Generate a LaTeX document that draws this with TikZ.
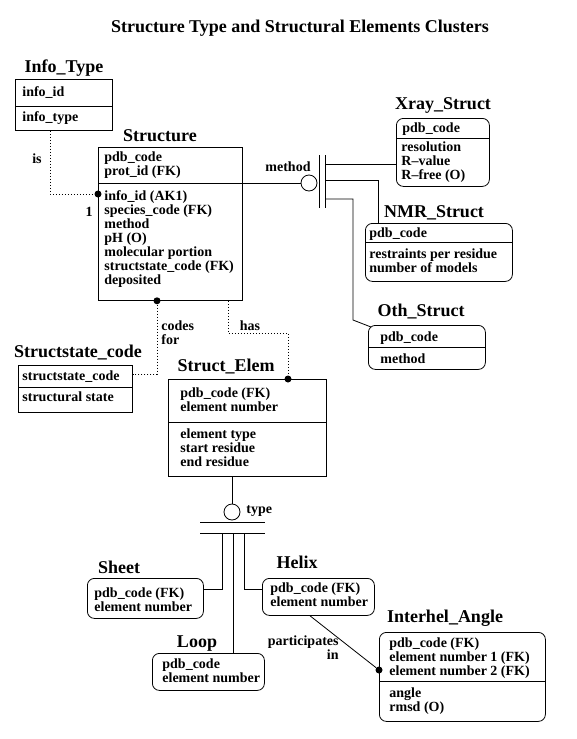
\documentclass[tikz,border=0pt]{standalone}
\usepackage{fontspec}
\setmainfont{Liberation Serif}

\begin{document}
\begin{tikzpicture}[x=1pt,y=-1pt,line width=0.8pt,
  ent/.style={draw,anchor=north west,inner sep=0pt},
  dep/.style={ent,rounded corners=7pt},
  attr/.style={anchor=north west,inner sep=0pt,align=left,font=\fontsize{14}{14}\bfseries},
  ename/.style={inner sep=0pt,anchor=mid,font=\fontsize{18}{18}\bfseries},
  lbl/.style={inner sep=0pt,align=left,font=\fontsize{14}{14}\bfseries},
  fkdot/.style={circle,fill,inner sep=0pt,minimum size=7pt},
  joint/.style={circle,draw,inner sep=0pt,minimum size=16pt},
  rel/.style={dash pattern=on 1pt off 2pt}]
%\draw [help lines,black!20!white] (0,0) grid[step=50] (576,739);
\useasboundingbox (0,0) rectangle (576,739);

\node[ename] (title) at (300,30) {Structure Type and Structural Elements Clusters};

% independent entities
\node[ent,minimum width=97pt,minimum height=51pt] (infotype) at (15,79) {};
\draw (infotype.west |- 0,106) -- (infotype.east |- 0,106);
\node[ename] (infotypeN) at (64,70) {Info\_Type};
\node[attr] (infotypeK) at (22,86) {info\_id};
\node[attr] (infotypeA) at (22,111) {info\_type};

\node[ent,minimum width=144pt,minimum height=153pt] (structure) at (98,147) {};
\draw (structure.west |- 0,183) -- (structure.east |- 0,183);
\node[ename] (structureN) at (160,139) {Structure};
\node[attr] (structureK) at (104,151) {pdb\_code\\prot\_id (FK)};
\node[attr] (structureA) at (104,190) {info\_id (AK1)\\species\_code (FK)\\method\\pH (O)\\molecular portion\\structstate\_code (FK)\\deposited};

\node[ent,minimum width=114pt,minimum height=47pt] (structstate) at (18,365) {};
\draw (structstate.west |- 0,387) -- (structstate.east |- 0,387);
\node[ename] (structstateN) at (78,355) {Structstate\_code};
\node[attr] (structstateK) at (22,370) {structstate\_code};
\node[attr] (structstateA) at (22,391) {structural state};

\node[ent,minimum width=158pt,minimum height=97pt] (structelem) at (168,379) {};
\draw (structelem.west |- 0,422) -- (structelem.east |- 0,422);
\node[ename] (structelemN) at (226,369) {Struct\_Elem};
\node[attr] (structelemK) at (180,387) {pdb\_code (FK)\\element number};
\node[attr] (structelemA) at (180,428) {element type\\start residue\\end residue};

% dependent entities
\node[dep,minimum width=93pt,minimum height=68pt] (xray) at (396,118) {};
\draw (xray.west |- 0,138) -- (xray.east |- 0,138);
\node[ename] (xrayN) at (443,107) {Xray\_Struct};
\node[attr] (xrayK) at (402,122) {pdb\_code};
\node[attr] (xrayA) at (401,141) {resolution\\R--value\\R--free (O)};

\node[dep,minimum width=147pt,minimum height=58pt] (nmr) at (365,223) {};
\draw (nmr.west |- 0,242) -- (nmr.east |- 0,242);
\node[ename] (nmrN) at (434,215) {NMR\_Struct};
\node[attr] (nmrK) at (369,227) {pdb\_code};
\node[attr] (nmrA) at (369,248) {restraints per residue\\number of models};

\node[dep,minimum width=117pt,minimum height=44pt] (oth) at (368,325) {};
\draw (oth.west |- 0,347) -- (oth.east |- 0,347);
\node[ename] (othN) at (421,314) {Oth\_Struct};
\node[attr] (othK) at (380,331) {pdb\_code};
\node[attr] (othA) at (380,353) {method};

\node[dep,minimum width=116pt,minimum height=40pt] (sheet) at (87,578) {};
\node[ename] (sheetN) at (119,571) {Sheet};
\node[attr] (sheetK) at (94,587) {pdb\_code (FK)\\element number};

\node[dep,minimum width=112pt,minimum height=37pt] (helix) at (262,578) {};
\node[ename] (helixN) at (297,566) {Helix};
\node[attr] (helixK) at (270,582) {pdb\_code (FK)\\element number};

\node[dep,minimum width=112pt,minimum height=37pt] (loop) at (152,653) {};
\node[ename] (loopN) at (197,645) {Loop};
\node[attr] (loopK) at (162,658) {pdb\_code\\element number};

\node[dep,minimum width=166pt,minimum height=89pt] (interhel) at (379,632) {};
\draw (interhel.west |- 0,681) -- (interhel.east |- 0,681);
\node[ename] (interhelN) at (445,620) {Interhel\_Angle};
\node[attr] (interhelK) at (389,637) {pdb\_code (FK)\\element number 1 (FK)\\element number 2 (FK)};
\node[attr] (interhelA) at (389,687) {angle\\rmsd (O)};

% is
\node[fkdot] (isdot) at (structure.west |- 0,194) {};
\draw[rel] (infotype.south -| 50,0) |- (isdot);
\node[lbl] (isL) at (37,159) {is};
\node[lbl] (isC) at (89,212) {1};

% method
\node[joint] (methjoint) at (309,183) {};
\draw (structure.east |- methjoint) -- (methjoint);
\draw (319,155) -- (319,208);
\draw (325,155) -- (325,208);
\draw (325,164) -- (xray.west |- 0,164);
\draw (325,180) -| (nmr.north -| 378,0);
\draw (325,199) -| (353,320) -- ([shift={(3,2)}]oth.north west);
\node[lbl] (methL) at (288,167) {method};

% codes for
\node[fkdot] (csdot) at (structure.south -| 157,0) {};
\draw[rel] (csdot) |- (structstate.east |- 0,374);
\node[lbl,anchor=north west] (csL) at (161,320) {codes\\for};

% has
\node[fkdot] (hasdot) at (structelem.north -| 288,0) {};
\draw[rel] (structure.south -| 228,0) |- (288,333) -- (hasdot);
\node[lbl] (hasL) at (250,326) {has};

% type
\node[joint] (typejoint) at (232,512) {};
\draw (structelem.south -| typejoint) -- (typejoint);
\draw (200,522) -- (265,522);
\draw (200,533) -- (265,533);
\draw (222,533) |- (sheet.east |- 0,589);
\draw (233,533) -- (loop.north -| 233,0);
\draw (244,533) |- (helix.west |- 0,589);
\node[lbl,anchor=west] (typeL) at (246,511) {type};

% participates in
\node[fkdot] (pdot) at (interhel.west |- 0,670) {};
\draw (helix.south -| 310,0) -- (pdot);
\node[lbl,anchor=north east] (pL) at (339,635) {participates\\\hfill in};

\end{tikzpicture}
\end{document}
